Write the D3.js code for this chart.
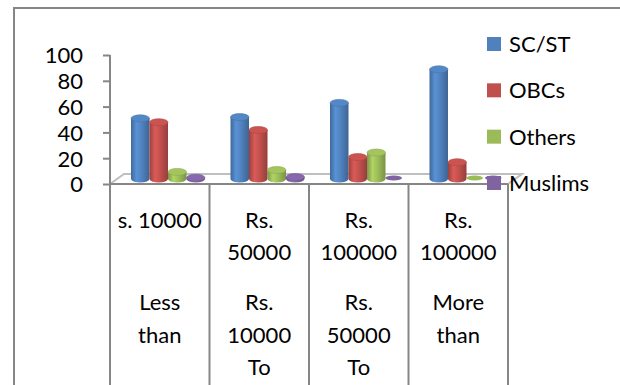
<!DOCTYPE html>
<html>
<head>
<meta charset="utf-8">
<script src="https://cdn.jsdelivr.net/npm/d3@7"></script>
<style>
  html, body { margin: 0; padding: 0; background: #fff; }
  svg { display: block; font-family: Lato, "Open Sans", sans-serif; }
</style>
</head>
<body>
<svg id="chart" width="620" height="385"></svg>
<script>
// Income groups (label lines as wrapped in each column cell)
const categories = ["g1", "g2", "g3", "g4"];
const labelRowsTop = [["s. 10000", ""], ["Rs.", "50000"], ["Rs.", "100000"], ["Rs.", "100000"]];
const labelRowsBottom = [["Less", "than", ""], ["Rs.", "10000", "To"], ["Rs.", "50000", "To"], ["More", "than", ""]];

// Series values per income group
const series = ["SC/ST", "OBCs", "Others", "Muslims"];
const scst = [47, 48, 59, 85];
const obcs = [44, 38, 17, 13];
const others = [5.5, 7, 20.5, 0];
const muslims = [1, 1.5, 0, 0];
const values = [scst, obcs, others, muslims];
const colors = ["#4F81BD", "#C0504D", "#9BBB59", "#8064A2"];

const yTicks = [0, 20, 40, 60, 80, 100];

const svg = d3.select("#chart");
const W = 620, H = 385;
const grey = "#868686";

// 3D depth offset of the floor
const depth = { dx: 14, dy: -10 };
const mid = { dx: depth.dx / 2, dy: depth.dy / 2 };

const x = d3.scaleBand().domain(categories).range([110, 508]).padding(0);
const xs = d3.scaleBand().domain(series).range([21 - mid.dx, 95 - mid.dx]).padding(0);
const y = d3.scaleLinear().domain([0, 100]).range([184, 55]);

// gradients for cylinder shading
const defs = svg.append("defs");
colors.forEach((c, i) => {
  const g = defs.append("linearGradient").attr("id", "cyl" + i)
    .attr("x1", "0%").attr("x2", "100%").attr("y1", "0%").attr("y2", "0%");
  const base = d3.color(c);
  g.append("stop").attr("offset", "0%").attr("stop-color", base.darker(0.6));
  g.append("stop").attr("offset", "30%").attr("stop-color", base.brighter(0.35));
  g.append("stop").attr("offset", "60%").attr("stop-color", base);
  g.append("stop").attr("offset", "100%").attr("stop-color", base.darker(0.7));
});

// chart area border (left and top)
svg.append("path")
  .attr("d", `M14,${H} L14,8 L${W},8`)
  .attr("fill", "none").attr("stroke", grey).attr("stroke-width", 2);

// floor
const x0 = x.range()[0], x1 = x.range()[1], y0 = y(0);
svg.append("path")
  .attr("d", `M${x0},${y0} L${x0 + depth.dx},${y0 + depth.dy} L${x1 + depth.dx},${y0 + depth.dy} L${x1},${y0}`)
  .attr("fill", "none").attr("stroke", "#bfbfbf").attr("stroke-width", 2);

// y axis
const yAxis = d3.axisLeft(y).tickValues(yTicks).tickSize(7).tickPadding(20);
const ya = svg.append("g").attr("transform", `translate(${x0},0)`).call(yAxis);
ya.select(".domain").remove();
ya.selectAll(".tick line").attr("stroke", grey).attr("stroke-width", 2);
ya.selectAll(".tick text").attr("font-size", 22).attr("fill", "#000")
  .attr("font-family", "Lato, sans-serif").attr("dy", "0.36em");
svg.append("line").attr("x1", x0).attr("x2", x0).attr("y1", y(100)).attr("y2", H)
  .attr("stroke", grey).attr("stroke-width", 2);

// category dividers and front edge
svg.append("line").attr("x1", x0).attr("x2", x1).attr("y1", y0).attr("y2", y0)
  .attr("stroke", grey).attr("stroke-width", 2);
categories.forEach(c => {
  const xe = x(c) + x.bandwidth();
  svg.append("line").attr("x1", xe).attr("x2", xe).attr("y1", y0).attr("y2", H)
    .attr("stroke", grey).attr("stroke-width", 2);
});

// cylinders
const ry = 3.5;
const bars = svg.append("g");
categories.forEach((c, ci) => {
  series.forEach((s, si) => {
    const v = values[si][ci];
    const bx = x(c) + xs(s) + mid.dx;
    const bw = xs.bandwidth();
    const cx = bx + bw / 2;
    const yb = y(0) + mid.dy;
    const yt = y(v) + mid.dy;
    const g = bars.append("g");
    if (v > 0.6) {
      g.append("path")
        .attr("d", `M${bx},${yt} L${bx},${yb} A${bw / 2},${ry} 0 0 0 ${bx + bw},${yb} L${bx + bw},${yt} Z`)
        .attr("fill", `url(#cyl${si})`);
      g.append("ellipse").attr("cx", cx).attr("cy", yt).attr("rx", bw / 2).attr("ry", ry)
        .attr("fill", d3.color(colors[si]).brighter(0.15))
        .attr("stroke", d3.color(colors[si]).darker(0.3)).attr("stroke-width", 0.6);
    } else {
      g.append("ellipse").attr("cx", cx - 1).attr("cy", yb - 1).attr("rx", bw / 2 - 1).attr("ry", 2.5)
        .attr("fill", colors[si]);
    }
  });
});

// category labels
const lab = svg.append("g").attr("font-size", 22).attr("fill", "#000").attr("text-anchor", "middle");
const topBase = [228, 260];
const botBase = [310, 343, 375];
categories.forEach((c, ci) => {
  const cx = x(c) + x.bandwidth() / 2;
  labelRowsTop[ci].forEach((t, ri) => {
    if (t) lab.append("text").attr("x", cx).attr("y", topBase[ri]).text(t);
  });
  labelRowsBottom[ci].forEach((t, ri) => {
    if (t) lab.append("text").attr("x", cx).attr("y", botBase[ri]).text(t);
  });
});

// legend
const legY = d3.scalePoint().domain(series).range([44, 183]);
const leg = svg.append("g");
series.forEach((s, i) => {
  leg.append("rect").attr("x", 487).attr("y", legY(s) - 7).attr("width", 14).attr("height", 14)
    .attr("fill", colors[i]);
  leg.append("text").attr("x", 509).attr("y", legY(s)).attr("dy", "0.36em")
    .attr("font-size", 22).attr("fill", "#000").text(s);
});
</script>
</body>
</html>
